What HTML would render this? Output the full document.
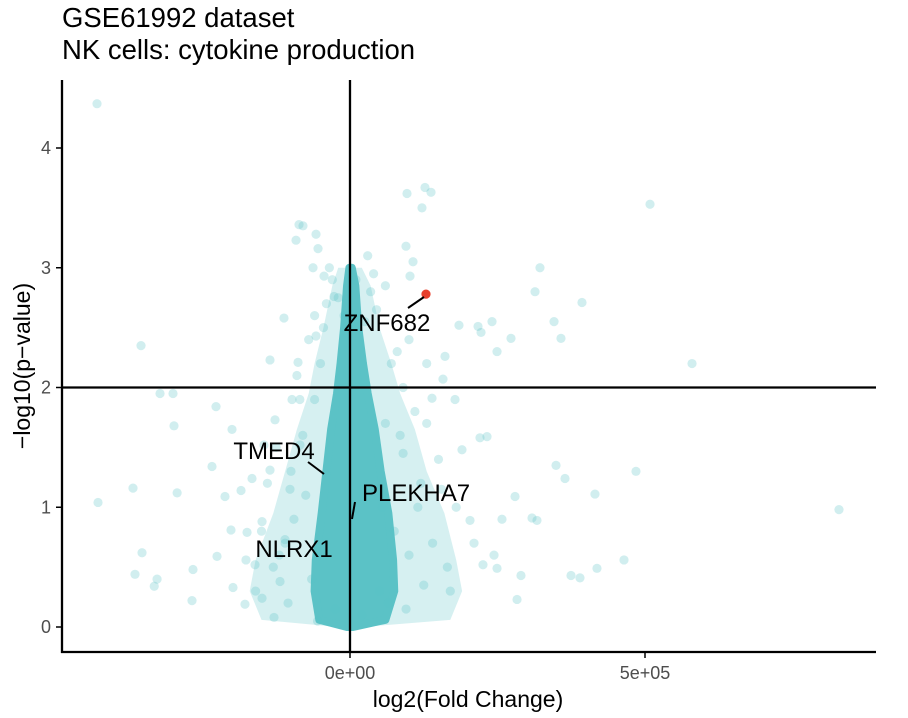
<!DOCTYPE html>
<html><head><meta charset="utf-8"><style>
body{margin:0;background:#fff;}
svg{display:block;font-family:"Liberation Sans",Arial,sans-serif;}
</style></head><body>
<svg id="chart" width="908" height="718" viewBox="0 0 908 718" xmlns="http://www.w3.org/2000/svg">
<text x="62" y="27" font-size="27.5" fill="#000">GSE61992 dataset</text>
<text x="62" y="59" font-size="27.5" fill="#000">NK cells: cytokine production</text>
<g id="plot"></g>
</svg>
<script>
// outlier points: log2 fold change
const fcValues = [-428800,-427100,-354200,-322000,-300000,-298300,-367800,-352500,-364400,-331800,-327000,-293000,-266100,-267800,-227100,-233900,-200000,-128800,-91500,-79700,-86400,-57600,-54200,-62700,-44000,-27100,-111900,137300,127100,122000,96600,94900,106800,101700,508500,393200,322000,313600,345800,357600,484700,579700,828800,415200,364400,349200,308500,316900,418600,464400,374600,389800,283100,289800,240700,249200,217000,222100,272900,184700,232200,220300,161000,157600,139000,178000,203400,210200,244100,225400,257600,279700,189800,249200,-145800,-166100,-184700,-211900,-201700,-174500,-225400,-149100,-161000,-118600,-149100,-198300,-178000,-135600,-101700,-135600,-88100,-57600,-98300,-127100,-84700,-176300,-110200,
-60000,-40000,-70000,-30000,60000,80000,45000,70000,90000,110000,
130000,150000,-60000,-80000,-100000,60000,90000,120000,35000,-35000,
-45000,55000,75000,100000,-75000,-95000,-110000,115000,140000,165000,
-120000,-65000,50000,65000,30000,-25000,20000,40000,-130000,-150000,
170000,-140000,-90000,100000,130000,-160000,180000,-105000,95000,-20000,
10000,-10000,25000,-50000,-85000,85000,125000,-125000,155000,-55000];
// -log10 p-values
const pValues = [4.37,1.04,2.35,1.95,1.95,1.68,1.16,0.62,0.44,0.34,0.40,1.12,0.48,0.22,1.84,1.34,1.65,0.08,3.23,3.35,3.36,3.28,3.16,3.0,2.93,2.76,2.58,3.63,3.67,3.5,3.62,3.18,3.05,2.93,3.53,2.71,3.0,2.80,2.55,2.41,1.30,2.20,0.98,1.11,1.24,1.35,0.91,0.89,0.49,0.56,0.43,0.41,0.23,0.43,2.55,2.30,2.51,2.46,2.41,2.52,1.59,1.58,2.26,2.07,1.91,1.90,0.89,0.70,0.60,0.52,0.90,1.09,1.48,0.49,1.52,1.24,1.14,1.09,0.81,0.79,0.59,0.88,0.52,0.38,0.24,0.33,0.19,1.31,1.15,2.23,2.21,2.43,1.90,1.73,1.52,0.56,0.73,
2.6,2.7,2.4,2.9,2.85,2.3,2.65,2.2,2.0,1.8,
1.7,1.4,1.9,1.6,1.3,1.7,1.45,1.2,2.8,3.0,
2.5,1.0,0.8,0.6,1.1,0.9,0.7,1.0,0.7,0.5,
0.6,0.4,0.3,0.2,3.1,0.15,0.1,2.95,0.5,0.8,
0.3,1.2,2.1,2.4,2.2,0.3,1.0,0.2,0.15,2.75,
2.9,2.6,2.55,2.2,1.9,1.6,0.35,1.5,1.15,0.05];
// dense core envelope
const coreY = [0,0.06,0.3,0.56,0.95,1.3,1.65,1.95,2.2,2.5,2.85,3.0];
const coreLeft = [-5000,-52000,-60000,-58000,-48000,-40000,-32000,-22000,-16000,-10000,-5000,-1000];
const coreRight = [5000,60000,75000,73000,65000,52000,42000,30000,22000,14000,9000,3000];
const haloLeft = [-20000,-150000,-170000,-160000,-130000,-110000,-90000,-70000,-60000,-45000,-30000,-20000];
const haloRight = [20000,170000,190000,180000,160000,130000,110000,85000,70000,50000,35000,20000];
const yTicks = [0,1,2,3,4];
const xTicks = [0,500000];
const xTickLabels = ["0e+00","5e+05"];
const highlightFc = [128800], highlightP = [2.78];
const geneLabels = ["ZNF682","TMED4","PLEKHA7","NLRX1"];

const NS="http://www.w3.org/2000/svg";
const X = v => 350 + v/500000*295;
const Y = v => 627 - v*119.75;
const g = document.getElementById('plot');
function mk(t,a){const e=document.createElementNS(NS,t);for(const k in a)e.setAttribute(k,a[k]);g.appendChild(e);return e;}

function env(L,R,fill,op,name,sw){
  let d="M"+X(L[0])+","+Y(coreY[0]);
  for(let i=1;i<coreY.length;i++) d+=" L"+X(L[i])+","+Y(coreY[i]);
  for(let i=coreY.length-1;i>=0;i--) d+=" L"+X(R[i])+","+Y(coreY[i]);
  const p=mk('path',{d:d+"Z",fill:fill,'fill-opacity':op,stroke:sw?fill:'none','stroke-width':sw,'stroke-linejoin':'round'});
  
  
}
env(haloLeft,haloRight,"#5bc2c6",0.25,'point-halo',0);
env(coreLeft,coreRight,"#5bc2c6",1,'point-core',8);

for(let i=0;i<fcValues.length;i++){
  const c=mk('circle',{cx:X(fcValues[i]),cy:Y(pValues[i]),r:4.6,fill:"#5bc2c6",'fill-opacity':0.28});
  
  
}
for(let i=0;i<highlightFc.length;i++){
  const c=mk('circle',{cx:X(highlightFc[i]),cy:Y(highlightP[i]),r:4.6,fill:"#e8412e"});
  
  
}
let l=mk('line',{x1:X(0),x2:X(0),y1:80,y2:652,stroke:"#000",'stroke-width':2.3});


l=mk('line',{x1:62,x2:876,y1:Y(2),y2:Y(2),stroke:"#000",'stroke-width':2.3});


const segs=[[408,308,424,297],[308,462,324,474],[355,502,352,519]];
segs.forEach(s=>{const e=mk('line',{x1:s[0],y1:s[1],x2:s[2],y2:s[3],stroke:"#000",'stroke-width':2});
  
  });
const lpos=[[387,331,'middle'],[274,459,'middle'],[362,501,'start'],[294,557,'middle']];
geneLabels.forEach((t,i)=>{const e=mk('text',{x:lpos[i][0],y:lpos[i][1],'text-anchor':lpos[i][2],'font-size':24,fill:"#000"});e.textContent=t;
  
  });
l=mk('line',{x1:62,x2:62,y1:80,y2:653,stroke:"#000",'stroke-width':2.3});


l=mk('line',{x1:61,x2:876,y1:652,y2:652,stroke:"#000",'stroke-width':2.3});


yTicks.forEach(v=>{
  const t=mk('line',{x1:56,x2:62,y1:Y(v),y2:Y(v),stroke:"#000",'stroke-width':1.5});
  
  
  const tx=mk('text',{x:51,y:Y(v)+6,'text-anchor':'end','font-size':18,fill:"#4d4d4d"});tx.textContent=v;
  
  
});
xTicks.forEach((v,i)=>{
  const t=mk('line',{x1:X(v),x2:X(v),y1:652,y2:658,stroke:"#000",'stroke-width':1.5});
  
  
  const tx=mk('text',{x:X(v),y:679,'text-anchor':'middle','font-size':18,fill:"#4d4d4d"});tx.textContent=xTickLabels[i];
  
  
});
let t=mk('text',{x:468,y:707,'text-anchor':'middle','font-size':23,fill:"#000"});t.textContent="log2(Fold Change)";


t=mk('text',{x:0,y:0,transform:"translate(30,366) rotate(-90)",'text-anchor':'middle','font-size':23,fill:"#000"});t.textContent="\u2212log10(p\u2212value)";


</script>
</body></html>
